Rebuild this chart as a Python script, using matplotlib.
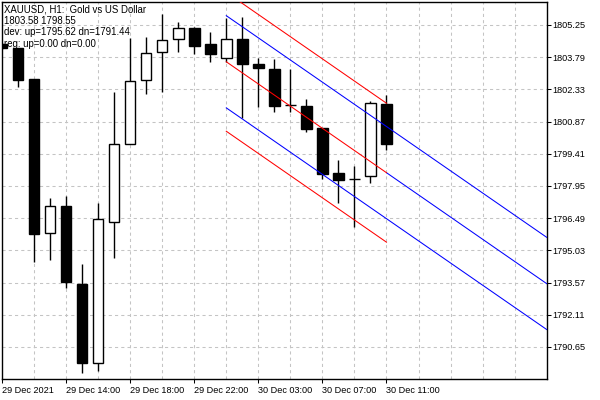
import matplotlib
matplotlib.use("Agg")
import matplotlib.pyplot as plt
import numpy as np

plt.rcParams['font.family'] = ['Liberation Sans', 'DejaVu Sans']

# ---- data ----
opens  = [1804.37, 1804.19, 1802.80, 1795.81, 1797.06, 1793.51, 1789.91, 1796.33, 1799.85,
          1802.76, 1804.04, 1804.62, 1805.10, 1804.39, 1803.74, 1804.60, 1803.48, 1803.25,
          1801.62, 1801.58, 1800.59, 1798.54, 1798.28, 1798.39, 1801.67]
highs  = [1804.45, 1804.19, 1802.80, 1797.42, 1797.51, 1794.41, 1797.19, 1802.23, 1804.65,
          1804.72, 1805.75, 1805.39, 1805.14, 1804.92, 1805.58, 1805.63, 1803.74, 1803.71,
          1803.25, 1801.89, 1800.59, 1799.13, 1798.87, 1801.80, 1802.08]
lows   = [1804.15, 1802.43, 1794.49, 1794.60, 1793.34, 1789.46, 1789.58, 1794.70, 1799.85,
          1802.11, 1802.23, 1804.03, 1803.94, 1803.59, 1803.59, 1801.02, 1801.52, 1801.32,
          1801.32, 1800.41, 1798.25, 1797.19, 1796.10, 1798.10, 1799.58]
closes = [1804.21, 1802.76, 1795.76, 1797.04, 1793.61, 1789.94, 1796.44, 1799.85, 1802.71,
          1803.97, 1804.56, 1805.10, 1804.31, 1803.92, 1804.60, 1803.47, 1803.32, 1801.59,
          1801.60, 1800.53, 1798.51, 1798.24, 1798.26, 1801.70, 1799.87]

time_labels = ["29 Dec 2021", "29 Dec 14:00", "29 Dec 18:00", "29 Dec 22:00",
               "30 Dec 03:00", "30 Dec 07:00", "30 Dec 11:00"]
time_label_bars = [0, 4, 8, 12, 16, 20, 24]

price_ticks = [1790.65, 1792.11, 1793.57, 1795.03, 1796.49, 1797.95,
               1799.41, 1800.87, 1802.33, 1803.79, 1805.25]

reg_start_bar, reg_end_bar, channel_end_bar = 14, 24, 34
reg_start, reg_end = 1803.58, 1798.55
dev_up_end, dev_dn_end = 1795.62, 1791.44
dev_blue = 2.09
dev_red = 3.15

header_lines = ["XAUUSD, H1:  Gold vs US Dollar",
                "1803.58 1798.55",
                "dev: up=1795.62 dn=1791.44",
                "reg: up=0.00 dn=0.00"]

# ---- figure ----
W, H = 600, 400
fig = plt.figure(figsize=(6, 4), dpi=100)
left_px, right_px, top_px, bot_px = 2, 546.7, 2, 378.7
ax = fig.add_axes([left_px / W, 1 - bot_px / H, (right_px - left_px) / W, (bot_px - top_px) / H])
ax.set_xlim(0, 34.0)
ax.set_ylim(1789.21, 1806.29)

lw1 = 0.75
grid_kw = dict(color='#c4c4c4', linewidth=lw1, linestyle=(0, (3, 3)), zorder=0)
for p in price_ticks:
    ax.axhline(p, **grid_kw)
for b in range(2, 34, 2):
    ax.axvline(b, **grid_kw)

# candles
x = np.arange(len(opens))
o = np.array(opens); c = np.array(closes); h = np.array(highs); l = np.array(lows)
ax.vlines(x, l, h, color='black', linewidth=1.0, zorder=2)
bull = c >= o
body_w = 0.66
ax.bar(x[bull], (c - o)[bull], bottom=o[bull], width=body_w, color='white',
       edgecolor='black', linewidth=1.0, zorder=3)
ax.bar(x[~bull], (c - o)[~bull], bottom=o[~bull], width=body_w, color='black',
       edgecolor='black', linewidth=1.0, zorder=3)

# channel lines
slope = (reg_end - reg_start) / (reg_end_bar - reg_start_bar)
mid_end_ext = reg_end + slope * (channel_end_bar - reg_end_bar)
bx = [reg_start_bar, channel_end_bar]
ax.plot(bx, [reg_start + dev_blue, dev_up_end], color='#0000ff', linewidth=lw1, zorder=4)
ax.plot([reg_end_bar, channel_end_bar], [reg_end, mid_end_ext], color='#0000ff', linewidth=lw1, zorder=4)
ax.plot(bx, [reg_start - dev_blue, dev_dn_end], color='#0000ff', linewidth=lw1, zorder=4)
rx = [reg_start_bar, reg_end_bar]
for off in (dev_red, 0.0, -dev_red):
    ax.plot(rx, [reg_start + off, reg_end + off], color='#ff0000', linewidth=lw1, zorder=5)

# axes styling
for s in ax.spines.values():
    s.set_color('black')
    s.set_linewidth(1.0)
ax.yaxis.tick_right()
ax.set_yticks(price_ticks)
ax.set_yticklabels([f"{p:.2f}" for p in price_ticks])
ax.set_xticks(time_label_bars)
ax.set_xticklabels(time_labels, ha='left')
ax.tick_params(axis='both', direction='out', length=3, width=0.75, color='black',
               labelsize=6.6, labelcolor='black')
ax.tick_params(axis='y', pad=1.2)
ax.tick_params(axis='x', pad=2.0)

# header text
baselines = [12.3, 24.0, 35.3, 46.6]
for t, yb in zip(header_lines, baselines):
    fig.text(4.5 / W, 1 - yb / H, t, fontsize=6.9, color='black', va='baseline', ha='left', zorder=10)

fig.savefig('out.png', dpi=100, facecolor='white')
